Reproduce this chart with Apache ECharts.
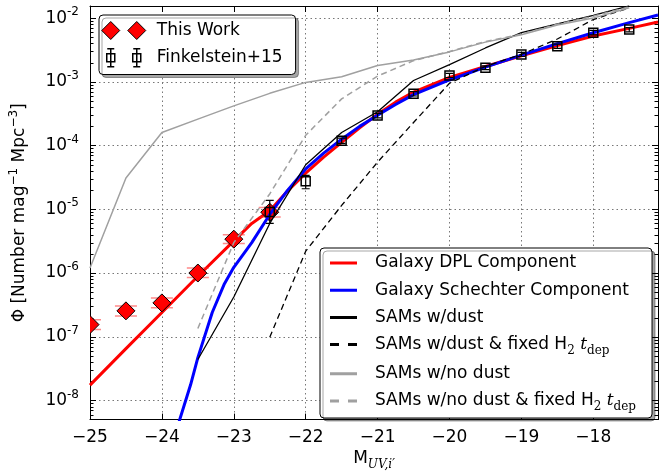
<!DOCTYPE html>
<html><head><meta charset="utf-8">
<script src="https://cdn.jsdelivr.net/npm/echarts@6/dist/echarts.min.js"></script>
<style>html,body{margin:0;padding:0;background:#fff}#c{width:667px;height:476px}</style>
</head><body><div id="c"></div>
<script>
// ---- data ----
const thisWorkM = [-25, -24.5, -24, -23.5, -23, -22.5];
const thisWorkPhi = [1.55e-7, 2.55e-7, 3.4e-7, 1.0e-6, 3.4e-6, 9.0e-6];
const thisWorkLo = [1.3e-7, 2.12e-7, 2.85e-7, 0.85e-6, 2.9e-6, 7.6e-6];
const thisWorkHi = [1.85e-7, 3.05e-7, 4.05e-7, 1.2e-6, 4.0e-6, 1.07e-5];

const finkM = [-22.5, -22, -21.5, -21, -20.5, -20, -19.5, -19, -18.5, -18, -17.5];
const finkPhi = [9.1e-6, 2.75e-5, 1.19e-4, 2.95e-4, 6.5e-4, 1.26e-3, 1.66e-3, 2.69e-3, 3.63e-3, 5.9e-3, 6.6e-3];
const finkLo = [6.0e-6, 2.1e-5, 1.08e-4, 2.72e-4, 6.0e-4, 1.17e-3, 1.55e-3, 2.5e-3, 3.35e-3, 5.45e-3, 6.1e-3];
const finkHi = [1.38e-5, 3.4e-5, 1.31e-4, 3.2e-4, 7.0e-4, 1.36e-3, 1.78e-3, 2.9e-3, 3.9e-3, 6.4e-3, 7.1e-3];

const dplM = [-25, -24.5, -24, -23.5, -23, -22.75, -22.5, -22.25, -22, -21.75, -21.5, -21.25, -21, -20.75, -20.5, -20, -19.5, -19, -18.5, -18, -17.5, -17.1];
const dplPhi = [1.74e-8, 6.5e-8, 2.4e-7, 8.9e-7, 3.2e-6, 6.0e-6, 9.5e-6, 1.95e-5, 3.7e-5, 6.6e-5, 1.12e-4, 1.9e-4, 3.1e-4, 4.8e-4, 6.9e-4, 1.17e-3, 1.74e-3, 2.57e-3, 3.7e-3, 5.25e-3, 6.9e-3, 8.7e-3];

const schM = [-23.76, -23.6, -23.5, -23.3, -23.13, -23, -22.75, -22.5, -22.25, -22, -21.75, -21.5, -21.25, -21, -20.75, -20.5, -20, -19.5, -19, -18.5, -18, -17.5, -17.1];
const schPhi = [4.7e-9, 1.78e-8, 4.7e-8, 2.4e-7, 6.8e-7, 1.23e-6, 3.0e-6, 8.3e-6, 2.0e-5, 4.3e-5, 7.6e-5, 1.26e-4, 2.0e-4, 3.0e-4, 4.4e-4, 6.3e-4, 1.07e-3, 1.7e-3, 2.63e-3, 3.98e-3, 5.9e-3, 8.5e-3, 1.12e-2];

const samDustM = [-23.5, -23, -22.5, -22, -21.5, -21, -20.5, -20, -19.5, -19, -18.5, -18, -17.5];
const samDustPhi = [4.4e-8, 4.2e-7, 6.0e-6, 5.0e-5, 1.6e-4, 3.4e-4, 1.05e-3, 1.86e-3, 3.4e-3, 5.9e-3, 8.1e-3, 1.1e-2, 1.55e-2];

const samDustFixM = [-22.5, -22, -21.5, -21, -20.5, -20, -19.5, -19, -18.5, -18, -17.5];
const samDustFixPhi = [9.8e-8, 2.2e-6, 1.15e-5, 5.5e-5, 2.3e-4, 9.5e-4, 1.75e-3, 2.7e-3, 4.7e-3, 9.5e-3, 1.45e-2];

const samNoDustM = [-25, -24.5, -24, -23.5, -23, -22.5, -22, -21.5, -21, -20.5, -20, -19.5, -19, -18.5, -18, -17.5];
const samNoDustPhi = [1.2e-6, 3.1e-5, 1.6e-4, 2.6e-4, 4.2e-4, 6.6e-4, 9.8e-4, 1.2e-3, 1.8e-3, 2.2e-3, 2.95e-3, 4.2e-3, 5.5e-3, 7.8e-3, 1.0e-2, 1.45e-2];

const samNoDustFixM = [-23.5, -23, -22.5, -22, -21.5, -21, -20.5, -20, -19.5, -19, -18.5, -18, -17.5];
const samNoDustFixPhi = [1.35e-7, 3.0e-6, 1.74e-5, 1.45e-4, 5.4e-4, 1.23e-3, 2.15e-3, 3.0e-3, 4.3e-3, 5.6e-3, 8.0e-3, 1.07e-2, 1.5e-2];

// axis structure
const xMin = -25, xMax = -17.1, xStep = 1;
const yMin = Math.pow(10, -8.3), yMax = Math.pow(10, -1.81);
const minorTickVals = [];
for (let e = -9; e <= -2; e++) for (let k = 2; k <= 9; k++) {
  const v = k * Math.pow(10, e);
  if (v > yMin && v < yMax) minorTickVals.push(v);
}

const FONT = 'DejaVu Sans';
const SERIF = 'DejaVu Serif';
const pair = (xs, ys) => xs.map((x, i) => [x, ys[i]]);

function renderThisWork(params, api) {
  const x = api.value(0);
  const p = api.coord([x, api.value(1)]);
  const pl = api.coord([x, api.value(2)]);
  const ph = api.coord([x, api.value(3)]);
  const s = 9, cw = 11;
  const eb = { stroke: 'rgba(255,40,40,0.55)', lineWidth: 1.5 };
  return { type: 'group', children: [
    { type: 'line', shape: { x1: p[0], y1: pl[1], x2: p[0], y2: ph[1] }, style: eb },
    { type: 'line', shape: { x1: p[0] - cw, y1: pl[1], x2: p[0] + cw, y2: pl[1] }, style: eb },
    { type: 'line', shape: { x1: p[0] - cw, y1: ph[1], x2: p[0] + cw, y2: ph[1] }, style: eb },
    { type: 'polygon', shape: { points: [[p[0], p[1] - s], [p[0] + s, p[1]], [p[0], p[1] + s], [p[0] - s, p[1]]] },
      style: { fill: '#ff0000', stroke: '#000', lineWidth: 1 } }
  ]};
}
function renderFink(params, api) {
  const x = api.value(0);
  const p = api.coord([x, api.value(1)]);
  const pl = api.coord([x, api.value(2)]);
  const ph = api.coord([x, api.value(3)]);
  const h = 4.5, cw = 4;
  const eb = { stroke: '#000', lineWidth: 1.2 };
  return { type: 'group', children: [
    { type: 'line', shape: { x1: p[0], y1: pl[1], x2: p[0], y2: ph[1] }, style: eb },
    { type: 'line', shape: { x1: p[0] - cw, y1: pl[1], x2: p[0] + cw, y2: pl[1] }, style: eb },
    { type: 'line', shape: { x1: p[0] - cw, y1: ph[1], x2: p[0] + cw, y2: ph[1] }, style: eb },
    { type: 'rect', shape: { x: p[0] - h, y: p[1] - h, width: 2 * h, height: 2 * h },
      style: { fill: 'none', stroke: '#000', lineWidth: 1.5 } }
  ]};
}
function renderMinor(params, api) {
  const p = api.coord([xMin, api.value(1)]);
  const cs = params.coordSys;
  const st = { stroke: '#000', lineWidth: 1 };
  const y = Math.round(p[1]) + 0.5;
  return { type: 'group', children: [
    { type: 'line', shape: { x1: cs.x, y1: y, x2: cs.x + 3.5, y2: y }, style: st },
    { type: 'line', shape: { x1: cs.x + cs.width - 3.5, y1: y, x2: cs.x + cs.width, y2: y }, style: st }
  ]};
}

const gridLine = { show: true, lineStyle: { color: '#777', type: [1.5, 3], width: 1 } };
const tickIn = { show: true, inside: true, length: 6, lineStyle: { color: '#000', width: 1 } };
const axLine = { show: true, onZero: false, lineStyle: { color: '#000', width: 1 } };

const NAMES = {
  dpl: 'Galaxy DPL Component', sch: 'Galaxy Schechter Component', sd: 'SAMs w/dust',
  sdf: 'SAMs w/dust & fixed H2 tdep', snd: 'SAMs w/no dust', sndf: 'SAMs w/no dust & fixed H2 tdep'
};
// legend handle shapes (20px tall box; tiny anchor triangles keep the box size)
const ANCH = 'M0,0L0.01,0L0.01,0.01Z M27,20L26.99,20L26.99,19.99Z ';
const SOLID_ICON = 'path://' + ANCH + 'M0,8.5H27V11.5H0Z';
const DASH_ICON = 'path://' + ANCH + 'M0,8.5H9V11.5H0Z M18,8.5H27V11.5H18Z';
const legItem = (name, icon, color) => ({ name, icon, itemStyle: { color, borderWidth: 0 } });

const lineSeries = (name, xs, ys, color, width, type, z) => ({
  type: 'line', name, data: pair(xs, ys), symbol: 'none', z,
  lineStyle: { color, width, type }, itemStyle: { color }, clip: true, silent: true
});

const option = {
  animation: false,
  grid: { left: 90, right: 9, top: 6, bottom: 52, containLabel: false },
  xAxis: [
    { type: 'value', min: xMin, max: xMax, interval: xStep, position: 'bottom',
      axisLine: axLine, axisTick: tickIn, splitLine: gridLine,
      axisLabel: { margin: 9, color: '#000', fontSize: 17, fontFamily: FONT,
        formatter: v => Math.abs(v - Math.round(v)) > 1e-6 ? '' : (v < 0 ? '\u2212' : '') + Math.abs(v) },
      name: '{m|M}{s|UV,i\u2032}', nameLocation: 'middle', nameGap: 22,
      nameTextStyle: { rich: {
        m: { fontSize: 17, fontFamily: FONT, color: '#000', lineHeight: 24 },
        s: { fontSize: 12, fontFamily: SERIF, fontStyle: 'italic', color: '#000', lineHeight: 14, verticalAlign: 'bottom' } } } },
    { type: 'value', min: xMin, max: xMax, interval: xStep, position: 'top',
      axisLine: axLine, axisTick: tickIn, splitLine: { show: false }, axisLabel: { show: false } }
  ],
  yAxis: [
    { type: 'log', min: yMin, max: yMax, position: 'left',
      axisLine: axLine, axisTick: tickIn, splitLine: gridLine,
      axisLabel: { margin: 11, color: '#000',
        formatter: v => { const e = Math.log10(v), r = Math.round(e);
          return Math.abs(e - r) > 1e-6 ? '' : '{b|10}{s|' + r + '}'; },
        rich: { b: { fontSize: 17, fontFamily: FONT, color: '#000', lineHeight: 24 },
                s: { fontSize: 12, fontFamily: FONT, color: '#000', lineHeight: 14, verticalAlign: 'top' } } },
      name: '{a|\u03A6 [Number mag}{s|\u22121}{a| Mpc}{s|\u22123}{a|]}', nameLocation: 'middle', nameGap: 58,
      nameRotate: 90,
      nameTextStyle: { rich: {
        a: { fontSize: 17, fontFamily: FONT, color: '#000', lineHeight: 24 },
        s: { fontSize: 12, fontFamily: FONT, color: '#000', lineHeight: 14, verticalAlign: 'top' } } } },
    { type: 'log', min: yMin, max: yMax, position: 'right',
      axisLine: axLine, axisTick: tickIn, splitLine: { show: false }, axisLabel: { show: false } }
  ],
  legend: [
    { left: 99, top: 15, orient: 'vertical', z: 20,
      itemWidth: 44, itemHeight: 18, itemGap: 8, padding: [6, 13, 7, 2],
      backgroundColor: '#fff', borderColor: '#000', borderWidth: 1, borderRadius: 4,
      shadowColor: 'rgba(0,0,0,0.35)', shadowOffsetX: 3, shadowOffsetY: 3, shadowBlur: 0,
      textStyle: { fontSize: 17, fontFamily: FONT, color: '#000', padding: [0, 0, 0, 6] },
      data: [
        { name: 'This Work', icon: 'path://M0,9L9,0L18,9L9,18Z M26,9L35,0L44,9L35,18Z',
          itemStyle: { color: '#ff0000', borderColor: '#000', borderWidth: 1 } },
        { name: 'Finkelstein+15',
          icon: 'path://M0,9H0.01 M44,9H43.99 M5,5H13V13H5Z M9,0V18 M5.5,0H12.5 M5.5,18H12.5 M31,5H39V13H31Z M35,0V18 M31.5,0H38.5 M31.5,18H38.5',
          itemStyle: { color: 'rgba(0,0,0,0)', borderColor: '#000', borderWidth: 1.5 } }
      ] },
    { left: 320, top: 248, orient: 'vertical', z: 20,
      itemWidth: 27, itemHeight: 20, itemGap: 7.2, padding: [5, 16, 5, 10],
      backgroundColor: '#fff', borderColor: '#000', borderWidth: 1, borderRadius: 4,
      shadowColor: 'rgba(0,0,0,0.35)', shadowOffsetX: 3, shadowOffsetY: 3, shadowBlur: 0,
      formatter: name => {
        if (name === NAMES.sdf) return '{t|SAMs w/dust & fixed H}{sub|2}{it| t}{sub|dep}';
        if (name === NAMES.sndf) return '{t|SAMs w/no dust & fixed H}{sub|2}{it| t}{sub|dep}';
        return '{t|' + name + '}';
      },
      textStyle: { rich: {
        t: { fontSize: 17, fontFamily: FONT, color: '#000', lineHeight: 24, padding: [0, 0, 0, 13] },
        sub: { fontSize: 12, fontFamily: SERIF, color: '#000', lineHeight: 14, verticalAlign: 'bottom' },
        it: { fontSize: 17, fontFamily: SERIF, fontStyle: 'italic', color: '#000', lineHeight: 24 } } },
      data: [
        legItem(NAMES.dpl, SOLID_ICON, '#ff0000'),
        legItem(NAMES.sch, SOLID_ICON, '#0000ff'),
        legItem(NAMES.sd, SOLID_ICON, '#000000'),
        legItem(NAMES.sdf, DASH_ICON, '#000000'),
        legItem(NAMES.snd, SOLID_ICON, '#a0a0a0'),
        legItem(NAMES.sndf, DASH_ICON, '#a0a0a0')
      ] }
  ],
  series: [
    { type: 'custom', name: 'minorTicks', silent: true, z: 1, renderItem: renderMinor,
      data: minorTickVals.map(v => [xMin, v]), encode: { x: 0, y: 1 } },
    lineSeries(NAMES.dpl, dplM, dplPhi, '#ff0000', 3, 'solid', 2),
    { type: 'custom', name: 'This Work', z: 3, clip: true, silent: true, renderItem: renderThisWork,
      itemStyle: { color: '#ff0000' },
      data: thisWorkM.map((m, i) => [m, thisWorkPhi[i], thisWorkLo[i], thisWorkHi[i]]),
      encode: { x: 0, y: 1 } },
    lineSeries(NAMES.sch, schM, schPhi, '#0000ff', 3, 'solid', 4),
    lineSeries(NAMES.sd, samDustM, samDustPhi, '#000000', 1.3, 'solid', 4),
    lineSeries(NAMES.sdf, samDustFixM, samDustFixPhi, '#000000', 1.3, [6, 4], 4),
    lineSeries(NAMES.snd, samNoDustM, samNoDustPhi, '#a0a0a0', 1.5, 'solid', 4),
    lineSeries(NAMES.sndf, samNoDustFixM, samNoDustFixPhi, '#a0a0a0', 1.5, [6, 4], 4),
    { type: 'custom', name: 'Finkelstein+15', z: 5, clip: true, silent: true, renderItem: renderFink,
      itemStyle: { color: '#000' },
      data: finkM.map((m, i) => [m, finkPhi[i], finkLo[i], finkHi[i]]),
      encode: { x: 0, y: 1 } }
  ]
};

const chart = echarts.init(document.getElementById('c'), null, { renderer: 'canvas' });
chart.setOption(option);
</script></body></html>
